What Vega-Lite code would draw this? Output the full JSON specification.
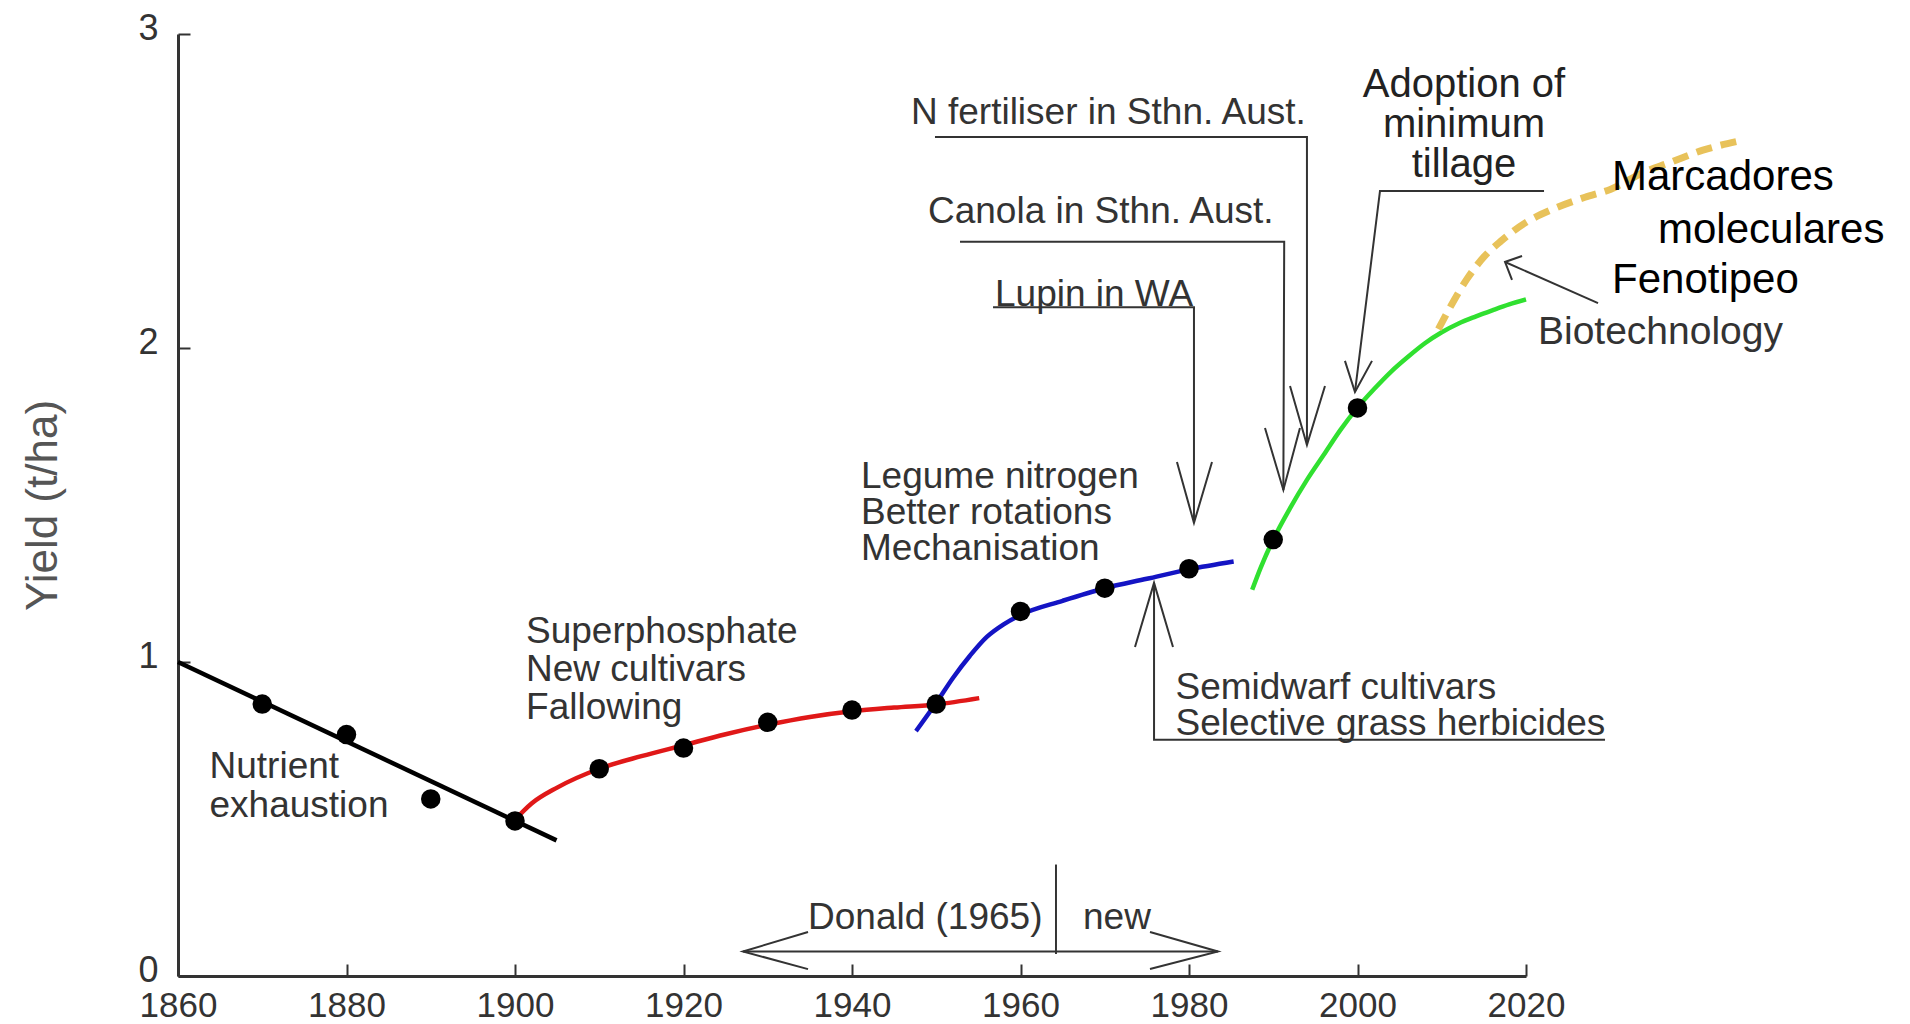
{
  "$schema": "https://vega.github.io/schema/vega-lite/v6.json",
  "width": 1348,
  "height": 942,
  "autosize": "none",
  "padding": {"left": 178, "top": 34, "right": 384, "bottom": 48},
  "background": "white",
  "config": {"view": {"stroke": null}, "font": "Liberation Sans"},
  "datasets": {
    "curves": [
      {"s": "a", "x": 1860, "y": 1.0}, {"s": "a", "x": 1904.93, "y": 0.432},
      {"s": "b", "x": 1899.6, "y": 0.486}, {"s": "b", "x": 1902, "y": 0.55}, {"s": "b", "x": 1905, "y": 0.6}, {"s": "b", "x": 1910, "y": 0.66}, {"s": "b", "x": 1915, "y": 0.7}, {"s": "b", "x": 1920, "y": 0.735}, {"s": "b", "x": 1925, "y": 0.77}, {"s": "b", "x": 1930, "y": 0.8}, {"s": "b", "x": 1935, "y": 0.825}, {"s": "b", "x": 1940, "y": 0.843}, {"s": "b", "x": 1945, "y": 0.855}, {"s": "b", "x": 1950, "y": 0.865}, {"s": "b", "x": 1955.1, "y": 0.885},
      {"s": "c", "x": 1947.6, "y": 0.78}, {"s": "c", "x": 1950, "y": 0.87}, {"s": "c", "x": 1952, "y": 0.95}, {"s": "c", "x": 1954, "y": 1.02}, {"s": "c", "x": 1956, "y": 1.08}, {"s": "c", "x": 1958, "y": 1.12}, {"s": "c", "x": 1960, "y": 1.15}, {"s": "c", "x": 1965, "y": 1.195}, {"s": "c", "x": 1970, "y": 1.235}, {"s": "c", "x": 1975, "y": 1.265}, {"s": "c", "x": 1980, "y": 1.295}, {"s": "c", "x": 1985.3, "y": 1.32},
      {"s": "d", "x": 1987.5, "y": 1.23}, {"s": "d", "x": 1988.5, "y": 1.3}, {"s": "d", "x": 1990, "y": 1.39}, {"s": "d", "x": 1992, "y": 1.49}, {"s": "d", "x": 1994, "y": 1.58}, {"s": "d", "x": 1996, "y": 1.66}, {"s": "d", "x": 1998, "y": 1.74}, {"s": "d", "x": 2000, "y": 1.81}, {"s": "d", "x": 2002, "y": 1.87}, {"s": "d", "x": 2004, "y": 1.925}, {"s": "d", "x": 2006, "y": 1.972}, {"s": "d", "x": 2008, "y": 2.015}, {"s": "d", "x": 2010, "y": 2.05}, {"s": "d", "x": 2012, "y": 2.078}, {"s": "d", "x": 2014, "y": 2.1}, {"s": "d", "x": 2016, "y": 2.12}, {"s": "d", "x": 2018, "y": 2.139}, {"s": "d", "x": 2020, "y": 2.155}
    ],
    "future": [
      {"x": 2009.6, "y": 2.06}, {"x": 2011, "y": 2.13}, {"x": 2013, "y": 2.22}, {"x": 2015, "y": 2.29}, {"x": 2017, "y": 2.34}, {"x": 2020, "y": 2.4}, {"x": 2023, "y": 2.44}, {"x": 2027, "y": 2.48}, {"x": 2030, "y": 2.505}, {"x": 2034, "y": 2.56}, {"x": 2037, "y": 2.59}, {"x": 2041, "y": 2.63}, {"x": 2045.4, "y": 2.66}
    ],
    "dots": [
      {"x": 1870, "y": 0.866}, {"x": 1880, "y": 0.769}, {"x": 1890, "y": 0.564}, {"x": 1900, "y": 0.494},
      {"x": 1910, "y": 0.66}, {"x": 1920, "y": 0.726}, {"x": 1930, "y": 0.808}, {"x": 1940, "y": 0.847}, {"x": 1950, "y": 0.866},
      {"x": 1960, "y": 1.161}, {"x": 1970, "y": 1.235}, {"x": 1980, "y": 1.297},
      {"x": 1990, "y": 1.39}, {"x": 2000, "y": 1.809}
    ],
    "ann": [
      {"id": "nf", "o": 1, "x": 1949.85, "y": 2.672}, {"id": "nf", "o": 2, "x": 1994.0, "y": 2.672}, {"id": "nf", "o": 3, "x": 1994.0, "y": 1.691},
      {"id": "nfh", "o": 1, "x": 1991.99, "y": 1.879}, {"id": "nfh", "o": 2, "x": 1994.0, "y": 1.691}, {"id": "nfh", "o": 3, "x": 1996.14, "y": 1.879},
      {"id": "ca", "o": 1, "x": 1952.82, "y": 2.338}, {"id": "ca", "o": 2, "x": 1991.3, "y": 2.338}, {"id": "ca", "o": 3, "x": 1991.2, "y": 1.548},
      {"id": "cah", "o": 1, "x": 1989.02, "y": 1.745}, {"id": "cah", "o": 2, "x": 1991.2, "y": 1.548}, {"id": "cah", "o": 3, "x": 1993.17, "y": 1.745},
      {"id": "lu", "o": 1, "x": 1956.74, "y": 2.13}, {"id": "lu", "o": 2, "x": 1980.59, "y": 2.13}, {"id": "lu", "o": 3, "x": 1980.59, "y": 1.443},
      {"id": "luh", "o": 1, "x": 1978.57, "y": 1.637}, {"id": "luh", "o": 2, "x": 1980.59, "y": 1.443}, {"id": "luh", "o": 3, "x": 1982.73, "y": 1.637},
      {"id": "ad", "o": 1, "x": 2022.14, "y": 2.5}, {"id": "ad", "o": 2, "x": 2002.67, "y": 2.5}, {"id": "ad", "o": 3, "x": 1999.7, "y": 1.86},
      {"id": "adh", "o": 1, "x": 1998.51, "y": 1.959}, {"id": "adh", "o": 2, "x": 1999.7, "y": 1.86}, {"id": "adh", "o": 3, "x": 2001.72, "y": 1.959},
      {"id": "sd", "o": 1, "x": 2029.38, "y": 0.752}, {"id": "sd", "o": 2, "x": 1975.85, "y": 0.752}, {"id": "sd", "o": 3, "x": 1975.85, "y": 1.252},
      {"id": "sdh", "o": 1, "x": 1973.59, "y": 1.048}, {"id": "sdh", "o": 2, "x": 1975.85, "y": 1.252}, {"id": "sdh", "o": 3, "x": 1978.1, "y": 1.048},
      {"id": "bt", "o": 1, "x": 2028.55, "y": 2.143}, {"id": "bt", "o": 2, "x": 2017.51, "y": 2.274},
      {"id": "bth", "o": 1, "x": 2019.53, "y": 2.293}, {"id": "bth", "o": 2, "x": 2017.51, "y": 2.274}, {"id": "bth", "o": 3, "x": 2018.34, "y": 2.217},
      {"id": "dn", "o": 1, "x": 1927.06, "y": 0.078}, {"id": "dn", "o": 2, "x": 1983.44, "y": 0.078},
      {"id": "dnl", "o": 1, "x": 1934.78, "y": 0.14}, {"id": "dnl", "o": 2, "x": 1927.06, "y": 0.078}, {"id": "dnl", "o": 3, "x": 1934.78, "y": 0.022},
      {"id": "dnr", "o": 1, "x": 1975.37, "y": 0.14}, {"id": "dnr", "o": 2, "x": 1983.44, "y": 0.078}, {"id": "dnr", "o": 3, "x": 1975.37, "y": 0.022},
      {"id": "dnv", "o": 1, "x": 1964.21, "y": 0.355}, {"id": "dnv", "o": 2, "x": 1964.21, "y": 0.07}
    ],
    "labels": [
      {"t": "Lupin in WA", "x": 1956.97, "y": 2.169},
      {"t": "Canola in Sthn. Aust.", "x": 1949.02, "y": 2.433},
      {"t": "N fertiliser in Sthn. Aust.", "x": 1947.0, "y": 2.748},
      {"t": "Donald (1965)", "x": 1934.78, "y": 0.185},
      {"t": "new", "x": 1967.42, "y": 0.185}
    ],
    "blocks": [
      {"t": "Nutrient|exhaustion", "x": 1863.74, "y": 0.666, "lh": "a"},
      {"t": "Superphosphate|New cultivars|Fallowing", "x": 1901.31, "y": 1.096, "lh": "b"},
      {"t": "Legume nitrogen|Better rotations|Mechanisation", "x": 1941.07, "y": 1.588, "lh": "c"},
      {"t": "Semidwarf cultivars|Selective grass herbicides", "x": 1978.4, "y": 0.917, "lh": "d"}
    ],
    "adopt": [
      {"t": "Adoption of|minimum|tillage", "x": 2012.64, "y": 2.838}
    ],
    "bio": [
      {"t": "Biotechnology", "x": 2021.42, "y": 2.051}
    ],
    "es": [
      {"t": "Marcadores", "x": 2030.21, "y": 2.545},
      {"t": "moleculares", "x": 2035.67, "y": 2.376},
      {"t": "Fenotipeo", "x": 2030.21, "y": 2.217}
    ]
  },
  "encoding": {
    "x": {
      "field": "x", "type": "quantitative",
      "scale": {"domain": [1860, 2020], "nice": false, "zero": false},
      "axis": {
        "values": [1860, 1880, 1900, 1920, 1940, 1960, 1980, 2000, 2020],
        "format": "d", "title": null, "grid": false,
        "labelFontSize": 35, "labelColor": "#333", "labelFont": "Liberation Sans",
        "labelFlush": false, "labelOverlap": false,
        "domainColor": "#333", "domainWidth": 3,
        "tickColor": "#333", "tickWidth": 2, "tickSize": -12,
        "labelPadding": 24
      }
    },
    "y": {
      "field": "y", "type": "quantitative",
      "scale": {"domain": [0, 3], "nice": false, "zero": false},
      "axis": {
        "values": [0, 1, 2, 3], "format": "d", "grid": false,
        "title": "Yield (t/ha)", "titleFontSize": 44, "titleColor": "#555",
        "titleFontWeight": "normal", "titleFont": "Liberation Sans",
        "titleX": -135, "titleY": 471, "titleAngle": -90,
        "titleBaseline": "middle", "titleAlign": "center",
        "labelFontSize": 36, "labelColor": "#333", "labelFont": "Liberation Sans",
        "labelFlush": false, "labelOverlap": false, "labelOffset": -6,
        "domainColor": "#333", "domainWidth": 3,
        "tickColor": "#333", "tickWidth": 2, "tickSize": -12,
        "labelPadding": 32
      }
    }
  },
  "layer": [
    {
      "data": {"name": "curves"},
      "mark": {"type": "line", "interpolate": "monotone", "strokeWidth": 4.5},
      "encoding": {
        "color": {
          "field": "s", "type": "nominal", "legend": null,
          "scale": {"domain": ["a", "b", "c", "d"], "range": ["#000000", "#e01818", "#1414c4", "#30e030"]}
        }
      }
    },
    {
      "data": {"name": "future"},
      "mark": {"type": "line", "interpolate": "monotone", "strokeWidth": 7, "color": "#e8c25a", "strokeDash": [16, 9]},
      "encoding": {}
    },
    {
      "data": {"name": "dots"},
      "mark": {"type": "point", "filled": true, "color": "#000", "opacity": 1, "size": 380},
      "encoding": {}
    },
    {
      "data": {"name": "ann"},
      "mark": {"type": "line", "color": "#333", "strokeWidth": 2},
      "encoding": {
        "detail": {"field": "id", "type": "nominal"},
        "order": {"field": "o", "type": "quantitative"}
      }
    },
    {
      "data": {"name": "labels"},
      "mark": {"type": "text", "align": "left", "baseline": "middle", "fontSize": 37, "color": "#333", "font": "Liberation Sans"},
      "encoding": {"text": {"field": "t", "type": "nominal"}}
    },
    {
      "data": {"name": "blocks"},
      "transform": [{"filter": "datum.lh == 'a'"}],
      "mark": {"type": "text", "align": "left", "baseline": "middle", "fontSize": 37, "color": "#333", "font": "Liberation Sans", "lineBreak": "|", "lineHeight": 39},
      "encoding": {"text": {"field": "t", "type": "nominal"}}
    },
    {
      "data": {"name": "blocks"},
      "transform": [{"filter": "datum.lh == 'b'"}],
      "mark": {"type": "text", "align": "left", "baseline": "middle", "fontSize": 37, "color": "#333", "font": "Liberation Sans", "lineBreak": "|", "lineHeight": 38},
      "encoding": {"text": {"field": "t", "type": "nominal"}}
    },
    {
      "data": {"name": "blocks"},
      "transform": [{"filter": "datum.lh == 'c'"}],
      "mark": {"type": "text", "align": "left", "baseline": "middle", "fontSize": 37, "color": "#333", "font": "Liberation Sans", "lineBreak": "|", "lineHeight": 36},
      "encoding": {"text": {"field": "t", "type": "nominal"}}
    },
    {
      "data": {"name": "blocks"},
      "transform": [{"filter": "datum.lh == 'd'"}],
      "mark": {"type": "text", "align": "left", "baseline": "middle", "fontSize": 37, "color": "#333", "font": "Liberation Sans", "lineBreak": "|", "lineHeight": 35.5},
      "encoding": {"text": {"field": "t", "type": "nominal"}}
    },
    {
      "data": {"name": "adopt"},
      "mark": {"type": "text", "align": "center", "baseline": "middle", "fontSize": 40, "color": "#222", "font": "Liberation Sans", "lineBreak": "|", "lineHeight": 40},
      "encoding": {"text": {"field": "t", "type": "nominal"}}
    },
    {
      "data": {"name": "bio"},
      "mark": {"type": "text", "align": "left", "baseline": "middle", "fontSize": 39, "color": "#333", "font": "Liberation Sans"},
      "encoding": {"text": {"field": "t", "type": "nominal"}}
    },
    {
      "data": {"name": "es"},
      "mark": {"type": "text", "align": "left", "baseline": "middle", "fontSize": 42, "color": "#000", "font": "Liberation Sans"},
      "encoding": {"text": {"field": "t", "type": "nominal"}}
    }
  ]
}
